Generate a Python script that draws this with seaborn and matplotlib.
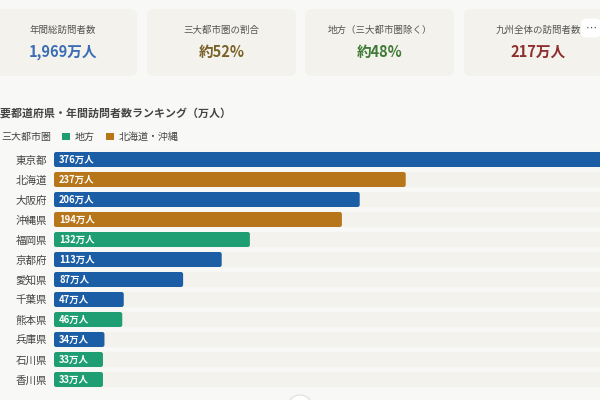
import numpy as np
import pandas as pd
import seaborn as sns
import matplotlib.pyplot as plt
from matplotlib.patches import FancyBboxPatch, Patch, Circle
from matplotlib.transforms import Affine2D

# data
prefectures = ['東京都', '北海道', '大阪府', '沖縄県', '福岡県', '京都府',
               '愛知県', '千葉県', '熊本県', '兵庫県', '石川県', '香川県']
visitors = [376, 237, 206, 194, 132, 113, 87, 47, 46, 34, 33, 33]
regions = ['三大都市圏', '北海道・沖縄', '三大都市圏', '北海道・沖縄', '地方', '三大都市圏',
           '三大都市圏', '三大都市圏', '地方', '三大都市圏', '地方', '地方']
region_order = ['三大都市圏', '地方', '北海道・沖縄']

card_labels = ['年間総訪問者数', '三大都市圏の割合', '地方（三大都市圏除く）', '九州全体の訪問者数']
card_values = ['1,969万人', '約52%', '約48%', '217万人']

palette = {'三大都市圏': '#1b5ea6', '地方': '#1f9e73', '北海道・沖縄': '#b8761a'}
card_colors = ['#3b6db5', '#7a6128', '#3f7a37', '#8e2e2e']
bg = '#f8f8f6'
track = '#f3f2ec'

df = pd.DataFrame({'pref': prefectures, 'visitors': visitors, 'region': regions})
df['track'] = df['visitors'].max()

sns.set_theme(style='white')
plt.rcParams['font.family'] = ['Noto Sans CJK JP', 'DejaVu Sans']

fig = plt.figure(figsize=(6, 4), dpi=100, facecolor=bg)
# pixel coords, origin at top-left
px = Affine2D().scale(1, -1).translate(0, 400).scale(1/600, 1/400) + fig.transFigure

# summary cards
card_x = [-12, 147, 305, 464]
for x0, lab, val, col in zip(card_x, card_labels, card_values, card_colors):
    fig.patches.append(FancyBboxPatch((x0, 9), 149, 67, boxstyle='round,pad=0,rounding_size=7',
                                      transform=px, fc=track, ec='none'))
    fig.text(x0 + 74.5, 30, lab, transform=px, ha='center', va='center', fontsize=6.8, color='#555555')
    fig.text(x0 + 74.5, 52, val, transform=px, ha='center', va='center', fontsize=10.5,
             color=col, weight='bold')
fig.text(591, 28, '⋯', transform=px, ha='center', va='center', fontsize=8, color='#555555',
         family=['DejaVu Sans'],
         bbox=dict(boxstyle='round,pad=0.4,rounding_size=0.5', fc='white', ec='none'))

fig.text(-11, 113, '主要都道府県・年間訪問者数ランキング（万人）', transform=px, ha='left', va='center',
         fontsize=7.9, color='#444444', weight='bold')

# bar chart
ax = fig.add_axes([54/600, 1 - 389.5/400, 558/600, 240/400])
ax.set_facecolor(bg)
sns.barplot(data=df, y='pref', x='track', color=track, width=0.78, ax=ax, saturation=1)
n_track = len(ax.patches)
sns.barplot(data=df, y='pref', x='visitors', hue='region', hue_order=region_order,
            palette=palette, width=0.75, dodge=False, ax=ax, saturation=1, legend=False)

ax.set_xlim(0, df['visitors'].max())
ax.set_ylim(len(df) - 0.5, -0.5)

# rounded corners
rx = 2.2 / (558 / df['visitors'].max())
for p in list(ax.patches):
    x, y, w, h = p.get_x(), p.get_y(), p.get_width(), p.get_height()
    if w <= 0 or np.isnan(w):
        p.remove()
        continue
    fc = p.get_facecolor()
    p.remove()
    ax.add_patch(FancyBboxPatch((x, y), w, h, boxstyle=f'round,pad=0,rounding_size={rx}',
                                mutation_aspect=(2.2 / 20) / rx, fc=fc, ec='none', lw=0))

for i, v in enumerate(df['visitors']):
    ax.annotate(f'{v}万人', xy=(0, i), xytext=(5, 0), textcoords='offset pixels',
                ha='left', va='center', fontsize=6.8, color='white', weight='bold')

ax.set_xlabel('')
ax.set_ylabel('')
ax.set_xticks([])
ax.tick_params(axis='y', length=0, pad=5, labelsize=7.6, labelcolor='#444444')
sns.despine(ax=ax, left=True, bottom=True)

handles = [Patch(fc=palette[r], ec='none') for r in region_order]
fig.legend(handles, region_order, loc='center left', bbox_to_anchor=(-12/600, 1 - 137/400),
           ncol=3, frameon=False, fontsize=7.2, handlelength=0.8, handleheight=0.8,
           handletextpad=0.5, columnspacing=1.1, borderpad=0, borderaxespad=0,
           labelcolor='#444444')

fig.patches.append(Circle((300, 407), 12, transform=px, fc='white', ec='#dddddd', lw=0.8))

fig.savefig('out.png', dpi=100, facecolor=bg)
